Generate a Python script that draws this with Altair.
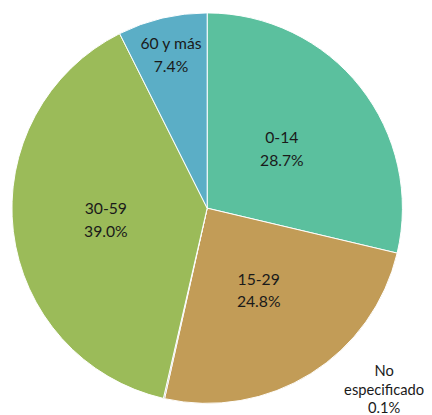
import altair as alt
import pandas as pd

categories = ["0-14", "15-29", "No especificado", "30-59", "60 y más"]
values = [28.7, 24.8, 0.1, 39.0, 7.4]
pct_labels = ["28.7%", "24.8%", "0.1%", "39.0%", "7.4%"]
colors = ["#5BC09E", "#C29C57", "#7F7F7F", "#9BBB59", "#5BAEC6"]
label_radius = [97, 99, 0, 104, 160]

df = pd.DataFrame({
    "cat": categories,
    "value": values,
    "order": list(range(len(categories))),
    "label": [f"{c}\n{p}" if c != "No especificado" else "" for c, p in zip(categories, pct_labels)],
    "lr": label_radius,
})

color_scale = alt.Scale(domain=categories, range=colors)

arcs = alt.Chart(df).mark_arc(outerRadius=199, stroke="white", strokeWidth=1).encode(
    theta=alt.Theta("value:Q", stack=True),
    order=alt.Order("order:Q"),
    color=alt.Color("cat:N", scale=color_scale, legend=None),
)

labels = alt.Chart(df).transform_window(
    cum="sum(value)", sort=[alt.SortField("order")]
).transform_joinaggregate(
    total="sum(value)"
).transform_calculate(
    mid="(datum.cum - datum.value / 2) / datum.total * 2 * PI"
).mark_text(
    font="Lato", fontSize=16, lineBreak="\n", lineHeight=23, dy=-11,
    align="center", baseline="middle", color="#1a1a1a"
).encode(
    theta=alt.Theta("mid:Q", scale=None),
    radius=alt.Radius("lr:Q", scale=None),
    text="label:N",
)

ne_df = pd.DataFrame({"t": ["No\nespecificado\n" + pct_labels[2]]})
ne_label = alt.Chart(ne_df).mark_text(
    font="Lato", fontSize=15, lineBreak="\n", lineHeight=19, dy=-14,
    align="center", baseline="middle", color="#1a1a1a",
    theta=2.356, radius=255,
).encode(text="t:N")

chart = alt.layer(arcs, labels, ne_label).properties(
    width=400, height=400,
    padding={"left": 3, "top": 0, "right": 21, "bottom": 15},
    autosize=alt.AutoSizeParams(type="none"),
).configure_view(stroke=None)

chart.save("out.html", embed_options={"renderer": "svg", "actions": False})
